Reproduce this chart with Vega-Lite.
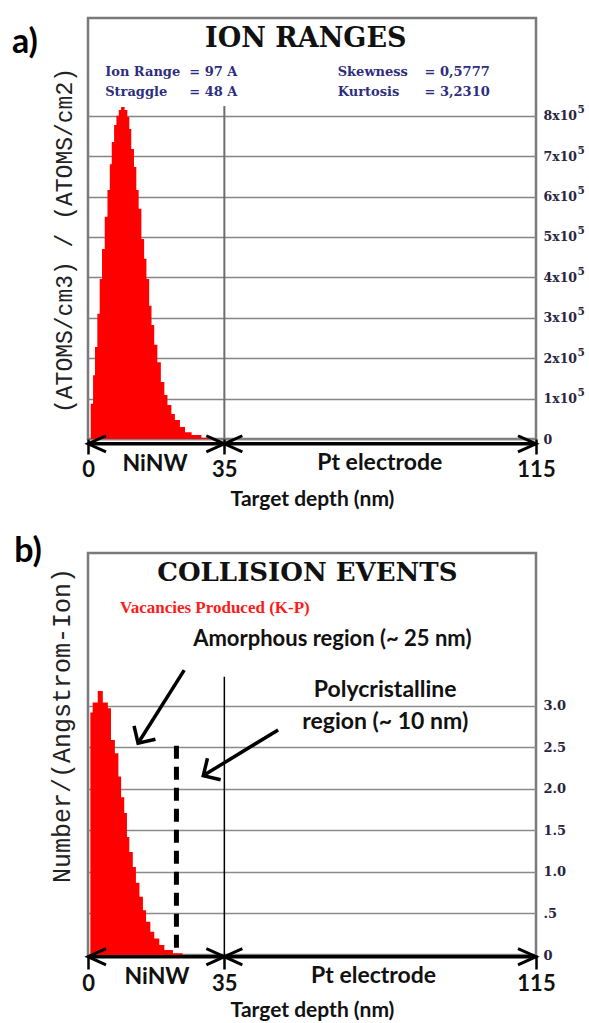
{
  "$schema": "https://vega.github.io/schema/vega-lite/v6.json",
  "background": "white",
  "padding": {"left": 10, "top": 16, "right": 0, "bottom": 0},
  "spacing": 22,
  "config": {"view": {"stroke": "#7a7a7a", "strokeWidth": 2.5}},
  "vconcat": [
    {
      "width": 448,
      "height": 421,
      "resolve": {"axis": {"x": "independent", "y": "independent"}},
      "layer": [
        {
          "mark": {"type": "rect", "fillOpacity": 0, "stroke": "#e8413a", "strokeWidth": 1.5},
          "encoding": {
            "x": {"datum": -0.8, "type": "quantitative", "scale": {"domain": [0, 115], "nice": false, "zero": false}, "axis": null},
            "x2": {"datum": 115.8},
            "y": {"datum": -8000, "type": "quantitative", "scale": {"domain": [0, 1042000], "nice": false, "zero": false}, "axis": null},
            "y2": {"datum": 1049000}
          }
        },
        {
          "data": {"values": [
            {"depth": 0.7, "atoms": 87000}, {"depth": 1.3, "atoms": 158000}, {"depth": 1.8, "atoms": 228000},
            {"depth": 2.4, "atoms": 310000}, {"depth": 3.0, "atoms": 396000}, {"depth": 3.6, "atoms": 470000},
            {"depth": 4.3, "atoms": 550000}, {"depth": 5.0, "atoms": 616000}, {"depth": 5.6, "atoms": 680000},
            {"depth": 6.1, "atoms": 735000}, {"depth": 6.7, "atoms": 777000}, {"depth": 7.3, "atoms": 800000},
            {"depth": 7.9, "atoms": 814000}, {"depth": 8.5, "atoms": 822000}, {"depth": 9.4, "atoms": 814000},
            {"depth": 10.1, "atoms": 797000}, {"depth": 10.6, "atoms": 767000}, {"depth": 11.1, "atoms": 718000},
            {"depth": 11.8, "atoms": 673000}, {"depth": 12.4, "atoms": 616000}, {"depth": 13.0, "atoms": 570000},
            {"depth": 13.7, "atoms": 495000}, {"depth": 14.4, "atoms": 446000}, {"depth": 15.0, "atoms": 396000},
            {"depth": 15.7, "atoms": 330000}, {"depth": 16.3, "atoms": 282000}, {"depth": 17.0, "atoms": 233000},
            {"depth": 17.8, "atoms": 190000}, {"depth": 18.7, "atoms": 141000}, {"depth": 19.6, "atoms": 109000},
            {"depth": 20.4, "atoms": 84000}, {"depth": 21.4, "atoms": 62000}, {"depth": 22.3, "atoms": 47000},
            {"depth": 23.6, "atoms": 30000}, {"depth": 24.9, "atoms": 17000}, {"depth": 26.6, "atoms": 10000},
            {"depth": 29.1, "atoms": 3000}, {"depth": 32, "atoms": 0}
          ]},
          "mark": {"type": "area", "interpolate": "step-after", "color": "#ff0000"},
          "encoding": {
            "x": {"field": "depth", "type": "quantitative", "scale": {"domain": [0, 115], "nice": false, "zero": false},
              "axis": {"orient": "bottom", "values": [0, 35, 115], "title": "Target depth (nm)", "titleFont": "Lato", "titleFontSize": 21, "titleFontWeight": "bold", "titleColor": "#111", "titlePadding": 8,
                "labelFont": "Lato", "labelFontSize": 22, "labelFontWeight": "bold", "labelColor": "#111", "labelFlush": false, "labelOverlap": false, "labelPadding": 5,
                "tickSize": 15, "tickWidth": 2.5, "tickColor": "#000", "domain": false, "grid": false}},
            "y": {"field": "atoms", "type": "quantitative", "scale": {"domain": [0, 1042000], "nice": false, "zero": false},
              "axis": {"orient": "left", "title": "(ATOMS/cm3) / (ATOMS/cm2)", "labels": false, "ticks": false, "domain": false, "grid": false,
                "titleFont": "Liberation Mono", "titleFontSize": 23, "titleFontWeight": "normal", "titleColor": "#222", "titlePadding": 12, "titleY": 222}}
          }
        },
        {
          "data": {"values": [{"depth": 35, "bottom": 0, "top": 824000}]},
          "mark": {"type": "rule", "color": "#6e6e6e", "strokeWidth": 2},
          "encoding": {
            "x": {"field": "depth", "type": "quantitative", "scale": {"domain": [0, 115], "nice": false, "zero": false}, "axis": null},
            "y": {"field": "bottom", "type": "quantitative", "scale": {"domain": [0, 1042000], "nice": false, "zero": false},
              "axis": {"orient": "right", "values": [0, 100000, 200000, 300000, 400000, 500000, 600000, 700000, 800000],
                "labelExpr": "datum.value == 0 ? '0' : format(datum.value / 100000, 'd') + 'x10'",
                "grid": true, "gridColor": "#858585", "gridWidth": 1.6, "ticks": false, "domain": false, "title": null,
                "labelFont": "DejaVu Serif", "labelFontWeight": "bold", "labelFontSize": 12.5, "labelColor": "#2a2440", "labelPadding": 7, "labelBaseline": "middle", "labelAlign": "left"}},
            "y2": {"field": "top"}
          }
        },
        {
          "data": {"values": [{"from": 0, "to": 35}, {"from": 35, "to": 115}]},
          "mark": {"type": "rule", "color": "#000", "strokeWidth": 3.5},
          "encoding": {
            "x": {"field": "from", "type": "quantitative", "scale": {"domain": [0, 115], "nice": false, "zero": false}, "axis": null},
            "x2": {"field": "to"},
            "y": {"datum": -12000, "type": "quantitative", "scale": {"domain": [0, 1042000], "nice": false, "zero": false}, "axis": null}
          }
        },
        {
          "data": {"values": [{"depth": 0, "dir": "left"}, {"depth": 35, "dir": "right"}, {"depth": 35, "dir": "left"}, {"depth": 115, "dir": "right"}]},
          "mark": {"type": "point", "filled": false, "color": "#000", "strokeWidth": 3, "size": 324, "opacity": 1},
          "encoding": {
            "x": {"field": "depth", "type": "quantitative", "scale": {"domain": [0, 115], "nice": false, "zero": false}, "axis": null},
            "y": {"datum": -12000, "type": "quantitative", "scale": {"domain": [0, 1042000], "nice": false, "zero": false}, "axis": null},
            "shape": {"field": "dir", "type": "nominal", "scale": {"domain": ["left", "right"], "range": ["M2,-0.9L0,0L2,0.9", "M-2,-0.9L0,0L-2,0.9"]}, "legend": null}
          }
        },
        {
          "data": {"values": [{"t": "ION RANGES", "depth": 55.9, "v": 990000}]},
          "mark": {"type": "text", "font": "DejaVu Serif", "fontWeight": "bold", "fontSize": 27, "color": "#111", "align": "center", "baseline": "middle"},
          "encoding": {
            "x": {"field": "depth", "type": "quantitative", "scale": {"domain": [0, 115], "nice": false, "zero": false}, "axis": null},
            "y": {"field": "v", "type": "quantitative", "scale": {"domain": [0, 1042000], "nice": false, "zero": false},
              "axis": {"orient": "right", "values": [100000, 200000, 300000, 400000, 500000, 600000, 700000, 800000],
                "labelExpr": "'5'", "grid": false, "ticks": false, "domain": false, "title": null,
                "labelFont": "DejaVu Serif", "labelFontWeight": "bold", "labelFontSize": 10.5, "labelColor": "#2a2440", "labelPadding": 41, "labelOffset": -6, "labelBaseline": "middle", "labelAlign": "left"}},
            "text": {"field": "t"}
          }
        },
        {
          "data": {"values": [
            {"t": "Ion Range", "depth": 4.4, "v": 908000}, {"t": "Straggle", "depth": 4.4, "v": 859000},
            {"t": "=  97 A", "depth": 26, "v": 908000}, {"t": "=  48 A", "depth": 26, "v": 859000},
            {"t": "Skewness", "depth": 64.1, "v": 908000}, {"t": "Kurtosis", "depth": 64.1, "v": 859000},
            {"t": "= 0,5777", "depth": 86.4, "v": 908000}, {"t": "= 3,2310", "depth": 86.4, "v": 859000}
          ]},
          "mark": {"type": "text", "font": "DejaVu Serif", "fontWeight": "bold", "fontSize": 13, "color": "#2e2e7e", "align": "left", "baseline": "middle"},
          "encoding": {
            "x": {"field": "depth", "type": "quantitative", "scale": {"domain": [0, 115], "nice": false, "zero": false}, "axis": null},
            "y": {"field": "v", "type": "quantitative", "scale": {"domain": [0, 1042000], "nice": false, "zero": false}, "axis": null},
            "text": {"field": "t"}
          }
        },
        {
          "data": {"values": [{"t": "NiNW", "depth": 17.2, "v": -62000}, {"t": "Pt electrode", "depth": 74.9, "v": -60000}]},
          "mark": {"type": "text", "font": "Lato", "fontWeight": "bold", "fontSize": 23, "color": "#111", "align": "center", "baseline": "middle"},
          "encoding": {
            "x": {"field": "depth", "type": "quantitative", "scale": {"domain": [0, 115], "nice": false, "zero": false}, "axis": null},
            "y": {"field": "v", "type": "quantitative", "scale": {"domain": [0, 1042000], "nice": false, "zero": false}, "axis": null},
            "text": {"field": "t"}
          }
        },
        {
          "data": {"values": [{"t": "a)", "depth": -16.2, "v": 980000}]},
          "mark": {"type": "text", "font": "Lato", "fontWeight": "bold", "fontSize": 34, "color": "#000", "align": "center", "baseline": "middle"},
          "encoding": {
            "x": {"field": "depth", "type": "quantitative", "scale": {"domain": [0, 115], "nice": false, "zero": false}, "axis": null},
            "y": {"field": "v", "type": "quantitative", "scale": {"domain": [0, 1042000], "nice": false, "zero": false}, "axis": null},
            "text": {"field": "t"}
          }
        }
      ]
    },
    {
      "width": 448,
      "height": 402,
      "resolve": {"axis": {"x": "independent", "y": "independent"}},
      "layer": [
        {
          "mark": {"type": "rect", "fillOpacity": 0, "stroke": "#e8413a", "strokeWidth": 1.5},
          "encoding": {
            "x": {"datum": -0.9, "type": "quantitative", "scale": {"domain": [0, 115], "nice": false, "zero": false}, "axis": null},
            "x2": {"datum": 115.9},
            "y": {"datum": -0.04, "type": "quantitative", "scale": {"domain": [0, 4.84], "nice": false, "zero": false}, "axis": null},
            "y2": {"datum": 4.88}
          }
        },
        {
          "data": {"values": [
            {"depth": 0.6, "vac": 2.92}, {"depth": 1.2, "vac": 3.04}, {"depth": 2.5, "vac": 3.18}, {"depth": 3.8, "vac": 3.04},
            {"depth": 5.1, "vac": 2.97}, {"depth": 5.9, "vac": 2.59}, {"depth": 6.9, "vac": 2.43}, {"depth": 7.8, "vac": 2.15},
            {"depth": 8.5, "vac": 1.9}, {"depth": 9.3, "vac": 1.71}, {"depth": 10.0, "vac": 1.42}, {"depth": 10.6, "vac": 1.24},
            {"depth": 11.5, "vac": 1.06}, {"depth": 12.3, "vac": 0.87}, {"depth": 13.2, "vac": 0.7}, {"depth": 14.1, "vac": 0.54},
            {"depth": 14.9, "vac": 0.4}, {"depth": 16.0, "vac": 0.28}, {"depth": 17.0, "vac": 0.2}, {"depth": 18.3, "vac": 0.12},
            {"depth": 19.6, "vac": 0.06}, {"depth": 21.8, "vac": 0.02}, {"depth": 24.3, "vac": 0}
          ]},
          "mark": {"type": "area", "interpolate": "step-after", "color": "#ff0000"},
          "encoding": {
            "x": {"field": "depth", "type": "quantitative", "scale": {"domain": [0, 115], "nice": false, "zero": false},
              "axis": {"orient": "bottom", "values": [0, 35, 115], "title": "Target depth (nm)", "titleFont": "Lato", "titleFontSize": 21, "titleFontWeight": "bold", "titleColor": "#111", "titlePadding": 5,
                "labelFont": "Lato", "labelFontSize": 22, "labelFontWeight": "bold", "labelColor": "#111", "labelFlush": false, "labelOverlap": false, "labelPadding": 4,
                "tickSize": 14, "tickWidth": 2.5, "tickColor": "#000", "domain": false, "grid": false}},
            "y": {"field": "vac", "type": "quantitative", "scale": {"domain": [0, 4.84], "nice": false, "zero": false},
              "axis": {"orient": "left", "title": "Number/(Angstrom-Ion)", "labels": false, "ticks": false, "domain": false, "grid": false,
                "titleFont": "Liberation Mono", "titleFontSize": 25, "titleFontWeight": "normal", "titleColor": "#222", "titlePadding": 14, "titleY": 172}}
          }
        },
        {
          "data": {"values": [{"depth": 35, "bottom": 0, "top": 3.35}]},
          "mark": {"type": "rule", "color": "#000", "strokeWidth": 1.5},
          "encoding": {
            "x": {"field": "depth", "type": "quantitative", "scale": {"domain": [0, 115], "nice": false, "zero": false}, "axis": null},
            "y": {"field": "bottom", "type": "quantitative", "scale": {"domain": [0, 4.84], "nice": false, "zero": false},
              "axis": {"orient": "right", "values": [0, 0.5, 1, 1.5, 2, 2.5, 3],
                "labelExpr": "datum.value == 0 ? '0' : datum.value == 0.5 ? '.5' : format(datum.value, '.1f')",
                "grid": true, "gridColor": "#8a8a8a", "gridWidth": 1.5, "ticks": false, "domain": false, "title": null,
                "labelFont": "DejaVu Serif", "labelFontWeight": "bold", "labelFontSize": 13, "labelColor": "#2a2440", "labelPadding": 7, "labelBaseline": "middle", "labelAlign": "left"}},
            "y2": {"field": "top"}
          }
        },
        {
          "data": {"values": [{"depth": 22.7, "bottom": 0, "top": 2.52}]},
          "mark": {"type": "rule", "color": "#000", "strokeWidth": 5, "strokeDash": [13, 8]},
          "encoding": {
            "x": {"field": "depth", "type": "quantitative", "scale": {"domain": [0, 115], "nice": false, "zero": false}, "axis": null},
            "y": {"field": "top", "type": "quantitative", "scale": {"domain": [0, 4.84], "nice": false, "zero": false}, "axis": null},
            "y2": {"field": "bottom"}
          }
        },
        {
          "data": {"values": [{"from": 0, "to": 35}, {"from": 35, "to": 115}]},
          "mark": {"type": "rule", "color": "#000", "strokeWidth": 3.5},
          "encoding": {
            "x": {"field": "from", "type": "quantitative", "scale": {"domain": [0, 115], "nice": false, "zero": false}, "axis": null},
            "x2": {"field": "to"},
            "y": {"datum": -0.02, "type": "quantitative", "scale": {"domain": [0, 4.84], "nice": false, "zero": false}, "axis": null}
          }
        },
        {
          "data": {"values": [{"depth": 0, "dir": "left"}, {"depth": 35, "dir": "right"}, {"depth": 35, "dir": "left"}, {"depth": 115, "dir": "right"}]},
          "mark": {"type": "point", "filled": false, "color": "#000", "strokeWidth": 3, "size": 324, "opacity": 1},
          "encoding": {
            "x": {"field": "depth", "type": "quantitative", "scale": {"domain": [0, 115], "nice": false, "zero": false}, "axis": null},
            "y": {"datum": -0.02, "type": "quantitative", "scale": {"domain": [0, 4.84], "nice": false, "zero": false}, "axis": null},
            "shape": {"field": "dir", "type": "nominal", "scale": {"domain": ["left", "right"], "range": ["M2,-0.9L0,0L2,0.9", "M-2,-0.9L0,0L-2,0.9"]}, "legend": null}
          }
        },
        {
          "data": {"values": [{"x1": 24.7, "y1": 3.43, "x2": 12.85, "y2": 2.55}, {"x1": 48.8, "y1": 2.71, "x2": 29.6, "y2": 2.16}]},
          "mark": {"type": "rule", "color": "#000", "strokeWidth": 3.5},
          "encoding": {
            "x": {"field": "x1", "type": "quantitative", "scale": {"domain": [0, 115], "nice": false, "zero": false}, "axis": null},
            "x2": {"field": "x2"},
            "y": {"field": "y1", "type": "quantitative", "scale": {"domain": [0, 4.84], "nice": false, "zero": false}, "axis": null},
            "y2": {"field": "y2"}
          }
        },
        {
          "data": {"values": [{"depth": 12.85, "v": 2.55}]},
          "mark": {"type": "point", "filled": false, "color": "#000", "strokeWidth": 3.5, "size": 324, "opacity": 1, "angle": 302, "shape": "M1.4,-1.4L0,0L1.4,1.4"},
          "encoding": {
            "x": {"field": "depth", "type": "quantitative", "scale": {"domain": [0, 115], "nice": false, "zero": false}, "axis": null},
            "y": {"field": "v", "type": "quantitative", "scale": {"domain": [0, 4.84], "nice": false, "zero": false}, "axis": null}
          }
        },
        {
          "data": {"values": [{"depth": 29.6, "v": 2.16}]},
          "mark": {"type": "point", "filled": false, "color": "#000", "strokeWidth": 3.5, "size": 324, "opacity": 1, "angle": 328.5, "shape": "M1.4,-1.4L0,0L1.4,1.4"},
          "encoding": {
            "x": {"field": "depth", "type": "quantitative", "scale": {"domain": [0, 115], "nice": false, "zero": false}, "axis": null},
            "y": {"field": "v", "type": "quantitative", "scale": {"domain": [0, 4.84], "nice": false, "zero": false}, "axis": null}
          }
        },
        {
          "data": {"values": [{"t": "COLLISION EVENTS", "depth": 56.3, "v": 4.6}]},
          "mark": {"type": "text", "font": "DejaVu Serif", "fontWeight": "bold", "fontSize": 26, "color": "#111", "align": "center", "baseline": "middle"},
          "encoding": {
            "x": {"field": "depth", "type": "quantitative", "scale": {"domain": [0, 115], "nice": false, "zero": false}, "axis": null},
            "y": {"field": "v", "type": "quantitative", "scale": {"domain": [0, 4.84], "nice": false, "zero": false}, "axis": null},
            "text": {"field": "t"}
          }
        },
        {
          "data": {"values": [{"t": "Vacancies Produced (K-P)", "depth": 8.2, "v": 4.18}]},
          "mark": {"type": "text", "font": "Liberation Serif", "fontWeight": "bold", "fontSize": 17, "color": "#ff1a1a", "align": "left", "baseline": "middle"},
          "encoding": {
            "x": {"field": "depth", "type": "quantitative", "scale": {"domain": [0, 115], "nice": false, "zero": false}, "axis": null},
            "y": {"field": "v", "type": "quantitative", "scale": {"domain": [0, 4.84], "nice": false, "zero": false}, "axis": null},
            "text": {"field": "t"}
          }
        },
        {
          "data": {"values": [{"t": "Amorphous region (~ 25 nm)", "depth": 27.0, "v": 3.8}]},
          "mark": {"type": "text", "font": "Lato", "fontWeight": "bold", "fontSize": 22, "color": "#111", "align": "left", "baseline": "middle"},
          "encoding": {
            "x": {"field": "depth", "type": "quantitative", "scale": {"domain": [0, 115], "nice": false, "zero": false}, "axis": null},
            "y": {"field": "v", "type": "quantitative", "scale": {"domain": [0, 4.84], "nice": false, "zero": false}, "axis": null},
            "text": {"field": "t"}
          }
        },
        {
          "data": {"values": [{"t": "Polycristalline", "depth": 76.3, "v": 3.19}, {"t": "region (~ 10 nm)", "depth": 76.3, "v": 2.81}, {"t": "NiNW", "depth": 17.7, "v": -0.26}, {"t": "Pt electrode", "depth": 73.3, "v": -0.25}]},
          "mark": {"type": "text", "font": "Lato", "fontWeight": "bold", "fontSize": 23, "color": "#111", "align": "center", "baseline": "middle"},
          "encoding": {
            "x": {"field": "depth", "type": "quantitative", "scale": {"domain": [0, 115], "nice": false, "zero": false}, "axis": null},
            "y": {"field": "v", "type": "quantitative", "scale": {"domain": [0, 4.84], "nice": false, "zero": false}, "axis": null},
            "text": {"field": "t"}
          }
        },
        {
          "data": {"values": [{"t": "b)", "depth": -15.4, "v": 4.855}]},
          "mark": {"type": "text", "font": "Lato", "fontWeight": "bold", "fontSize": 34, "color": "#000", "align": "center", "baseline": "middle"},
          "encoding": {
            "x": {"field": "depth", "type": "quantitative", "scale": {"domain": [0, 115], "nice": false, "zero": false}, "axis": null},
            "y": {"field": "v", "type": "quantitative", "scale": {"domain": [0, 4.84], "nice": false, "zero": false}, "axis": null},
            "text": {"field": "t"}
          }
        }
      ]
    }
  ]
}
